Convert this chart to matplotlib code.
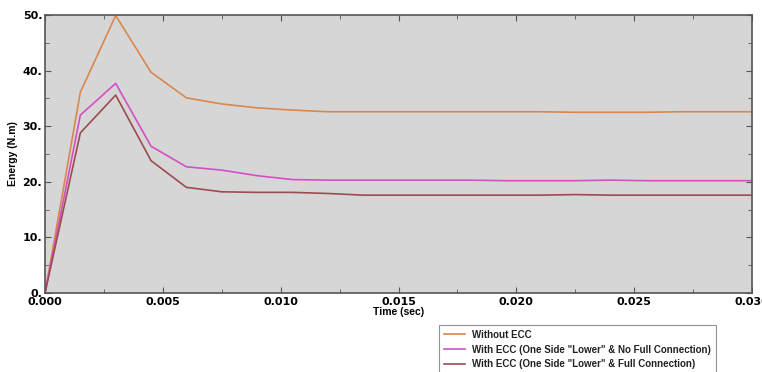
import matplotlib.pyplot as plt
from matplotlib.ticker import MultipleLocator, FuncFormatter

# time steps (sec)
time = [0.0, 0.0015, 0.003, 0.0045, 0.006, 0.0075, 0.009, 0.0105, 0.012, 0.0135,
        0.015, 0.0165, 0.018, 0.0195, 0.021, 0.0225, 0.024, 0.0255, 0.027, 0.0285, 0.030]

# energy (N.m)
without_ecc = [0.0, 36.1, 49.9, 39.7, 35.1, 34.0, 33.3, 32.9, 32.6, 32.6,
               32.6, 32.6, 32.6, 32.6, 32.6, 32.5, 32.5, 32.5, 32.6, 32.6, 32.6]
ecc_no_full = [0.0, 32.0, 37.7, 26.4, 22.7, 22.1, 21.1, 20.4, 20.3, 20.3,
               20.3, 20.3, 20.3, 20.2, 20.2, 20.2, 20.3, 20.2, 20.2, 20.2, 20.2]
ecc_full = [0.0, 28.8, 35.6, 23.8, 19.0, 18.2, 18.1, 18.1, 17.9, 17.6,
            17.6, 17.6, 17.6, 17.6, 17.6, 17.7, 17.6, 17.6, 17.6, 17.6, 17.6]

labels = ['Without ECC',
          'With ECC (One Side "Lower" & No Full Connection)',
          'With ECC (One Side "Lower" & Full Connection)']
colors = ['#D9874E', '#D44FC4', '#9C4C50']

fig = plt.figure(figsize=(7.62, 3.72), dpi=100)
ax = fig.add_axes([45 / 762, 1 - 293 / 372, 707 / 762, 278 / 372])
ax.set_facecolor('#D6D6D6')

for y, c, lab in zip([without_ecc, ecc_no_full, ecc_full], colors, labels):
    ax.plot(time, y, color=c, lw=1.2, label=lab)

ax.set_xlim(0, 0.03)
ax.set_ylim(0, 50)
ax.xaxis.set_major_locator(MultipleLocator(0.005))
ax.xaxis.set_minor_locator(MultipleLocator(0.0025))
ax.yaxis.set_major_locator(MultipleLocator(10))
ax.yaxis.set_minor_locator(MultipleLocator(5))
ax.xaxis.set_major_formatter(FuncFormatter(lambda v, p: f'{v:.3f}'))
ax.yaxis.set_major_formatter(FuncFormatter(lambda v, p: f'{v:.0f}.'))
ax.tick_params(which='both', direction='in', top=True, right=True, color='#555555',
               labelsize=8, pad=2)
ax.tick_params(axis='x', pad=3)
ax.tick_params(which='major', length=4)
ax.tick_params(which='minor', length=3)
for t in ax.get_xticklabels() + ax.get_yticklabels():
    t.set_fontweight('bold')
for s in ax.spines.values():
    s.set_color('#555555')
    s.set_linewidth(1.2)

ax.set_xlabel('Time (sec)', fontsize=7.5, fontweight='bold', labelpad=0,
              family=['Liberation Sans Narrow', 'Liberation Sans'])
ax.set_ylabel('Energy (N.m)', fontsize=7.5, fontweight='bold', labelpad=3,
              family=['Liberation Sans', 'DejaVu Sans'])

leg = fig.legend(loc='upper left', bbox_to_anchor=(434 / 762, 1 - 320 / 372),
                 prop={'family': ['Liberation Sans', 'DejaVu Sans'],
                       'weight': 'bold', 'size': 7},
                 frameon=True, fancybox=False, handlelength=2.2,
                 handletextpad=0.7, borderpad=0.5, labelspacing=0.5)
leg.get_frame().set_edgecolor('#777777')
leg.get_frame().set_linewidth(0.8)
for t in leg.get_texts():
    t.set_color('#222222')

fig.savefig('out.png', dpi=100)
